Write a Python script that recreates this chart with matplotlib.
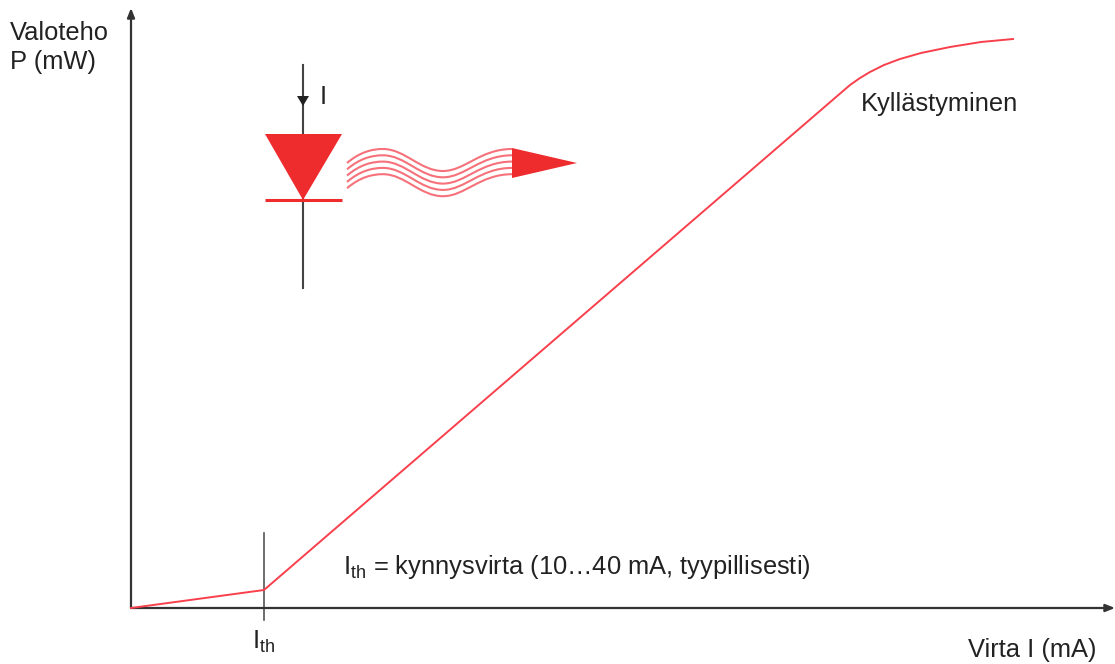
import matplotlib
matplotlib.use("Agg")
from matplotlib import pyplot as plt
from matplotlib.path import Path
from matplotlib.patches import PathPatch, Polygon

plt.rcParams['font.family'] = ['Liberation Sans', 'DejaVu Sans']
plt.rcParams['mathtext.fontset'] = 'custom'
plt.rcParams['mathtext.rm'] = 'Liberation Sans'
plt.rcParams['mathtext.default'] = 'rm'

# curve values (units are px from the origin)
current = [0, 133, 719, 729, 739, 753, 769, 790, 819, 850, 882]
power = [0, 18, 523, 530, 536, 543, 549, 555, 561, 566, 569]
threshold = 133

# wave centre line, bezier nodes
wave_x = [216, 229, 241, 252, 274, 289, 312, 334, 349, 381]
wave_y = [445, 456, 459, 459, 459, 437, 437, 437, 459, 459]
wave_offsets = [0, -6.3, -12.6, -18.9, -25.2]

RED = "#ee2b2d"
LINE_RED = "#f8404c"
DARK = "#333333"

fig = plt.figure(figsize=(11.15, 6.64), dpi=100)
ax = fig.add_axes([0, 0, 1, 1])
ax.set_xlim(-131, 984)
ax.set_ylim(-56, 608)
ax.axis("off")

# axes arrows
ax.annotate("", xy=(984, 0), xytext=(0, 0),
            arrowprops=dict(arrowstyle="-|>,head_length=0.55,head_width=0.22", color=DARK, lw=1.6,
                            shrinkA=0, shrinkB=0))
ax.annotate("", xy=(0, 600), xytext=(0, 0),
            arrowprops=dict(arrowstyle="-|>,head_length=0.55,head_width=0.22", color=DARK, lw=1.6,
                            shrinkA=0, shrinkB=0))

# characteristic
ax.plot(current, power, color=LINE_RED, lw=1.4, solid_joinstyle="round", zorder=3)
ax.plot([threshold, threshold], [-12, 75], color="#555555", lw=1.2, zorder=2)

# diode symbol
ax.plot([172, 172], [320, 543], color="#444444", lw=1.5, zorder=2)
ax.add_patch(Polygon([[134, 474], [211, 474], [172, 408]], closed=True, color=RED, lw=0, zorder=3))
ax.plot([134, 211], [408, 408], color=RED, lw=2.2, solid_capstyle="butt", zorder=3)
ax.add_patch(Polygon([[166, 512], [178, 512], [172, 502]], closed=True, color="#222222", lw=0, zorder=4))

# light wave
for off in wave_offsets:
    verts = [(wave_x[0], wave_y[0] + off)]
    codes = [Path.MOVETO]
    for x, y in zip(wave_x[1:], wave_y[1:]):
        verts.append((x, y + off))
        codes.append(Path.CURVE4)
    ax.add_patch(PathPatch(Path(verts, codes), fill=False, edgecolor="#f6717a", lw=1.5, zorder=3))
ax.add_patch(Polygon([[381, 460], [381, 430], [446, 445]], closed=True, color=RED, lw=0, zorder=4))

# texts
fs = 18.4
ax.text(-121, 575.5, "Valoteho", fontsize=fs, color="#222222", va="center", ha="left")
ax.text(-121, 546, "P (mW)", fontsize=fs, color="#222222", va="center", ha="left")
ax.text(189, 511.5, "I", fontsize=fs, color="#222222", va="center", ha="left")
ax.text(730, 504.5, "Kyllästyminen", fontsize=fs, color="#222222", va="center", ha="left")
ax.text(212, 41, r"I$_{\mathrm{th}}$ = kynnysvirta (10…40 mA, tyypillisesti)", fontsize=fs,
        color="#222222", va="center", ha="left")
ax.text(threshold, -34, r"I$_{\mathrm{th}}$", fontsize=fs, color="#222222", va="center", ha="center")
ax.text(965, -42.5, "Virta I (mA)", fontsize=fs, color="#222222", va="center", ha="right")

fig.savefig("out.png", dpi=100)
